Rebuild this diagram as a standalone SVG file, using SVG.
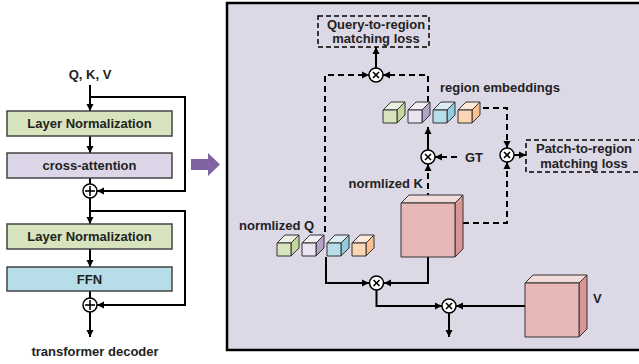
<svg xmlns="http://www.w3.org/2000/svg" width="639" height="364" viewBox="0 0 639 364">
<style>
text{font-family:"Liberation Sans",Arial,sans-serif;font-weight:bold;font-size:13px;fill:#222;}
.box{stroke:#444;stroke-width:1.5;}
.ln{fill:none;stroke:#000;stroke-width:2;}
.dash{fill:none;stroke:#000;stroke-width:2;stroke-dasharray:6,4;}
.op{fill:#fff;stroke:#000;stroke-width:1.5;}
.sym{stroke:#000;stroke-width:1.6;}
.cb{stroke:#333;stroke-width:1;stroke-linejoin:round;}
</style>
<defs>
<marker id="ah" markerWidth="8" markerHeight="8" refX="7" refY="4" orient="auto" markerUnits="userSpaceOnUse">
<path d="M0,0.5 L7,4 L0,7.5 Z" fill="#000"/>
</marker>
</defs>
<rect width="639" height="364" fill="#fff"/>

<g id="panel">
<rect x="227" y="3" width="420" height="347" fill="#ddd8e6" stroke="#000" stroke-width="2.5"/>
</g>

<g id="big-arrow">
<polygon points="191,159 208,159 208,153 220,164.5 208,176 208,170 191,170" fill="#8064a2"/>
</g>

<g id="connectors">
<!-- left panel -->
<line class="ln" x1="90" y1="85" x2="90" y2="111" marker-end="url(#ah)"/>
<polyline class="ln" points="90,97 185,97 185,191 97,191" marker-end="url(#ah)"/>
<line class="ln" x1="90" y1="136" x2="90" y2="153" marker-end="url(#ah)"/>
<line class="ln" x1="90" y1="178" x2="90" y2="184"/>
<line class="ln" x1="90" y1="198" x2="90" y2="224" marker-end="url(#ah)"/>
<polyline class="ln" points="90,211 185,211 185,305 97,305" marker-end="url(#ah)"/>
<line class="ln" x1="90" y1="249" x2="90" y2="267" marker-end="url(#ah)"/>
<line class="ln" x1="90" y1="291" x2="90" y2="298"/>
<line class="ln" x1="90" y1="312" x2="90" y2="337" marker-end="url(#ah)"/>
<!-- right panel -->
<line class="ln" x1="376" y1="68" x2="376" y2="47" marker-end="url(#ah)"/>
<polyline class="dash" points="325,232 325,75 369,75" marker-end="url(#ah)"/>
<polyline class="dash" points="428,102 428,75 383,75" marker-end="url(#ah)"/>
<line class="ln" x1="428" y1="150" x2="428" y2="127" marker-end="url(#ah)"/>
<line class="dash" x1="428" y1="199" x2="428" y2="164" marker-end="url(#ah)"/>
<line class="dash" x1="457" y1="157" x2="435" y2="157" marker-end="url(#ah)"/>
<polyline class="dash" points="483,108 507,108 507,148" marker-end="url(#ah)"/>
<polyline class="dash" points="463,223 507,223 507,162" marker-end="url(#ah)"/>
<line class="ln" x1="514" y1="155" x2="526" y2="155" marker-end="url(#ah)"/>
<polyline class="ln" points="428,257 428,283 384,283" marker-end="url(#ah)"/>
<polyline class="ln" points="326,257 326,283 369,283" marker-end="url(#ah)"/>
<polyline class="ln" points="376.5,290 376.5,306 442,306" marker-end="url(#ah)"/>
<line class="ln" x1="525" y1="306" x2="456" y2="306" marker-end="url(#ah)"/>
<line class="ln" x1="449" y1="313" x2="449" y2="337" marker-end="url(#ah)"/>
</g>

<g id="qkv-label"><text x="90" y="79" text-anchor="middle">Q, K, V</text></g>
<g id="layer-norm-1">
<rect class="box" x="7" y="111" width="165" height="25" fill="#d7e4bd"/>
<text x="89.5" y="128" text-anchor="middle">Layer Normalization</text>
</g>
<g id="cross-attention">
<rect class="box" x="7" y="153" width="165" height="25" fill="#dcd6e8"/>
<text x="89.5" y="170" text-anchor="middle">cross-attention</text>
</g>
<g id="add-1">
<circle class="op" cx="90" cy="191" r="7"/>
<line class="sym" x1="85" y1="191" x2="95" y2="191"/><line class="sym" x1="90" y1="186" x2="90" y2="196"/>
</g>
<g id="layer-norm-2">
<rect class="box" x="7" y="224" width="165" height="25" fill="#d7e4bd"/>
<text x="89.5" y="241" text-anchor="middle">Layer Normalization</text>
</g>
<g id="ffn">
<rect class="box" x="7" y="267" width="165" height="24" fill="#b7dde8"/>
<text x="89.5" y="284" text-anchor="middle">FFN</text>
</g>
<g id="add-2">
<circle class="op" cx="90" cy="305" r="7"/>
<line class="sym" x1="85" y1="305" x2="95" y2="305"/><line class="sym" x1="90" y1="300" x2="90" y2="310"/>
</g>
<g id="decoder-label"><text x="95" y="356" text-anchor="middle">transformer decoder</text></g>

<g id="query-loss">
<rect x="318" y="16" width="111" height="31" fill="none" stroke="#000" stroke-width="1.5" stroke-dasharray="5,3"/>
<text x="376" y="29" text-anchor="middle">Query-to-region</text>
<text x="376" y="43" text-anchor="middle">matching loss</text>
</g>
<g id="patch-loss">
<rect x="526" y="140" width="120" height="32" fill="none" stroke="#000" stroke-width="1.5" stroke-dasharray="5,3"/>
<text x="584" y="153" text-anchor="middle">Patch-to-region</text>
<text x="584" y="168" text-anchor="middle">matching loss</text>
</g>

<g id="mul-q">
<circle class="op" cx="376" cy="75" r="7"/>
<line class="sym" x1="373" y1="72" x2="379" y2="78"/><line class="sym" x1="379" y1="72" x2="373" y2="78"/>
</g>
<g id="mul-gt">
<circle class="op" cx="428" cy="157" r="7"/>
<line class="sym" x1="425" y1="154" x2="431" y2="160"/><line class="sym" x1="431" y1="154" x2="425" y2="160"/>
</g>
<g id="mul-p">
<circle class="op" cx="507" cy="155" r="7"/>
<line class="sym" x1="504" y1="152" x2="510" y2="158"/><line class="sym" x1="510" y1="152" x2="504" y2="158"/>
</g>
<g id="mul-qk">
<circle class="op" cx="376.5" cy="283" r="7"/>
<line class="sym" x1="373.5" y1="280" x2="379.5" y2="286"/><line class="sym" x1="379.5" y1="280" x2="373.5" y2="286"/>
</g>
<g id="mul-v">
<circle class="op" cx="449" cy="306" r="7"/>
<line class="sym" x1="446" y1="303" x2="452" y2="309"/><line class="sym" x1="452" y1="303" x2="446" y2="309"/>
</g>

<g id="region-embeddings">
<text x="440" y="92">region embeddings</text>
<g class="cb">
<polygon points="383,110 391,102 405,102 397,110" fill="#ebf1de"/><polygon points="397,110 405,102 405,115 397,123" fill="#c3d69b"/><rect x="383" y="110" width="14" height="13" fill="#d7e4bd"/>
<polygon points="408,110 416,102 430,102 422,110" fill="#f0edf5"/><polygon points="422,110 430,102 430,115 422,123" fill="#b3a2c7"/><rect x="408" y="110" width="14" height="13" fill="#e8e4f0"/>
<polygon points="433,110 441,102 455,102 447,110" fill="#dbeef3"/><polygon points="447,110 455,102 455,115 447,123" fill="#93cddd"/><rect x="433" y="110" width="14" height="13" fill="#b7dde8"/>
<polygon points="458,110 466,102 480,102 472,110" fill="#fde9d9"/><polygon points="472,110 480,102 480,115 472,123" fill="#fac090"/><rect x="458" y="110" width="14" height="13" fill="#fcd5b5"/>
</g>
</g>

<g id="gt-label"><text x="465" y="162">GT</text></g>

<g id="normalized-q">
<text x="239" y="230">normlized Q</text>
<g class="cb">
<polygon points="277,243 285,235 299,235 291,243" fill="#ebf1de"/><polygon points="291,243 299,235 299,248 291,256" fill="#c3d69b"/><rect x="277" y="243" width="14" height="13" fill="#d7e4bd"/>
<polygon points="302,243 310,235 324,235 316,243" fill="#f0edf5"/><polygon points="316,243 324,235 324,248 316,256" fill="#b3a2c7"/><rect x="302" y="243" width="14" height="13" fill="#e8e4f0"/>
<polygon points="327,243 335,235 349,235 341,243" fill="#dbeef3"/><polygon points="341,243 349,235 349,248 341,256" fill="#93cddd"/><rect x="327" y="243" width="14" height="13" fill="#b7dde8"/>
<polygon points="352,243 360,235 374,235 366,243" fill="#fde9d9"/><polygon points="366,243 374,235 374,248 366,256" fill="#fac090"/><rect x="352" y="243" width="14" height="13" fill="#fcd5b5"/>
</g>
</g>

<g id="normalized-k">
<text x="423" y="188" text-anchor="end">normlized K</text>
<g class="cb">
<polygon points="401,203 409,195 463,195 455,203" fill="#f2dcdb"/>
<polygon points="455,203 463,195 463,249 455,257" fill="#d99694"/>
<rect x="401" y="203" width="54" height="54" fill="#e6b8b7"/>
</g>
</g>

<g id="value-v">
<text x="593" y="303">V</text>
<g class="cb">
<polygon points="525,283 533,275 587,275 579,283" fill="#f2dcdb"/>
<polygon points="579,283 587,275 587,329 579,337" fill="#d99694"/>
<rect x="525" y="283" width="54" height="54" fill="#e6b8b7"/>
</g>
</g>
</svg>
